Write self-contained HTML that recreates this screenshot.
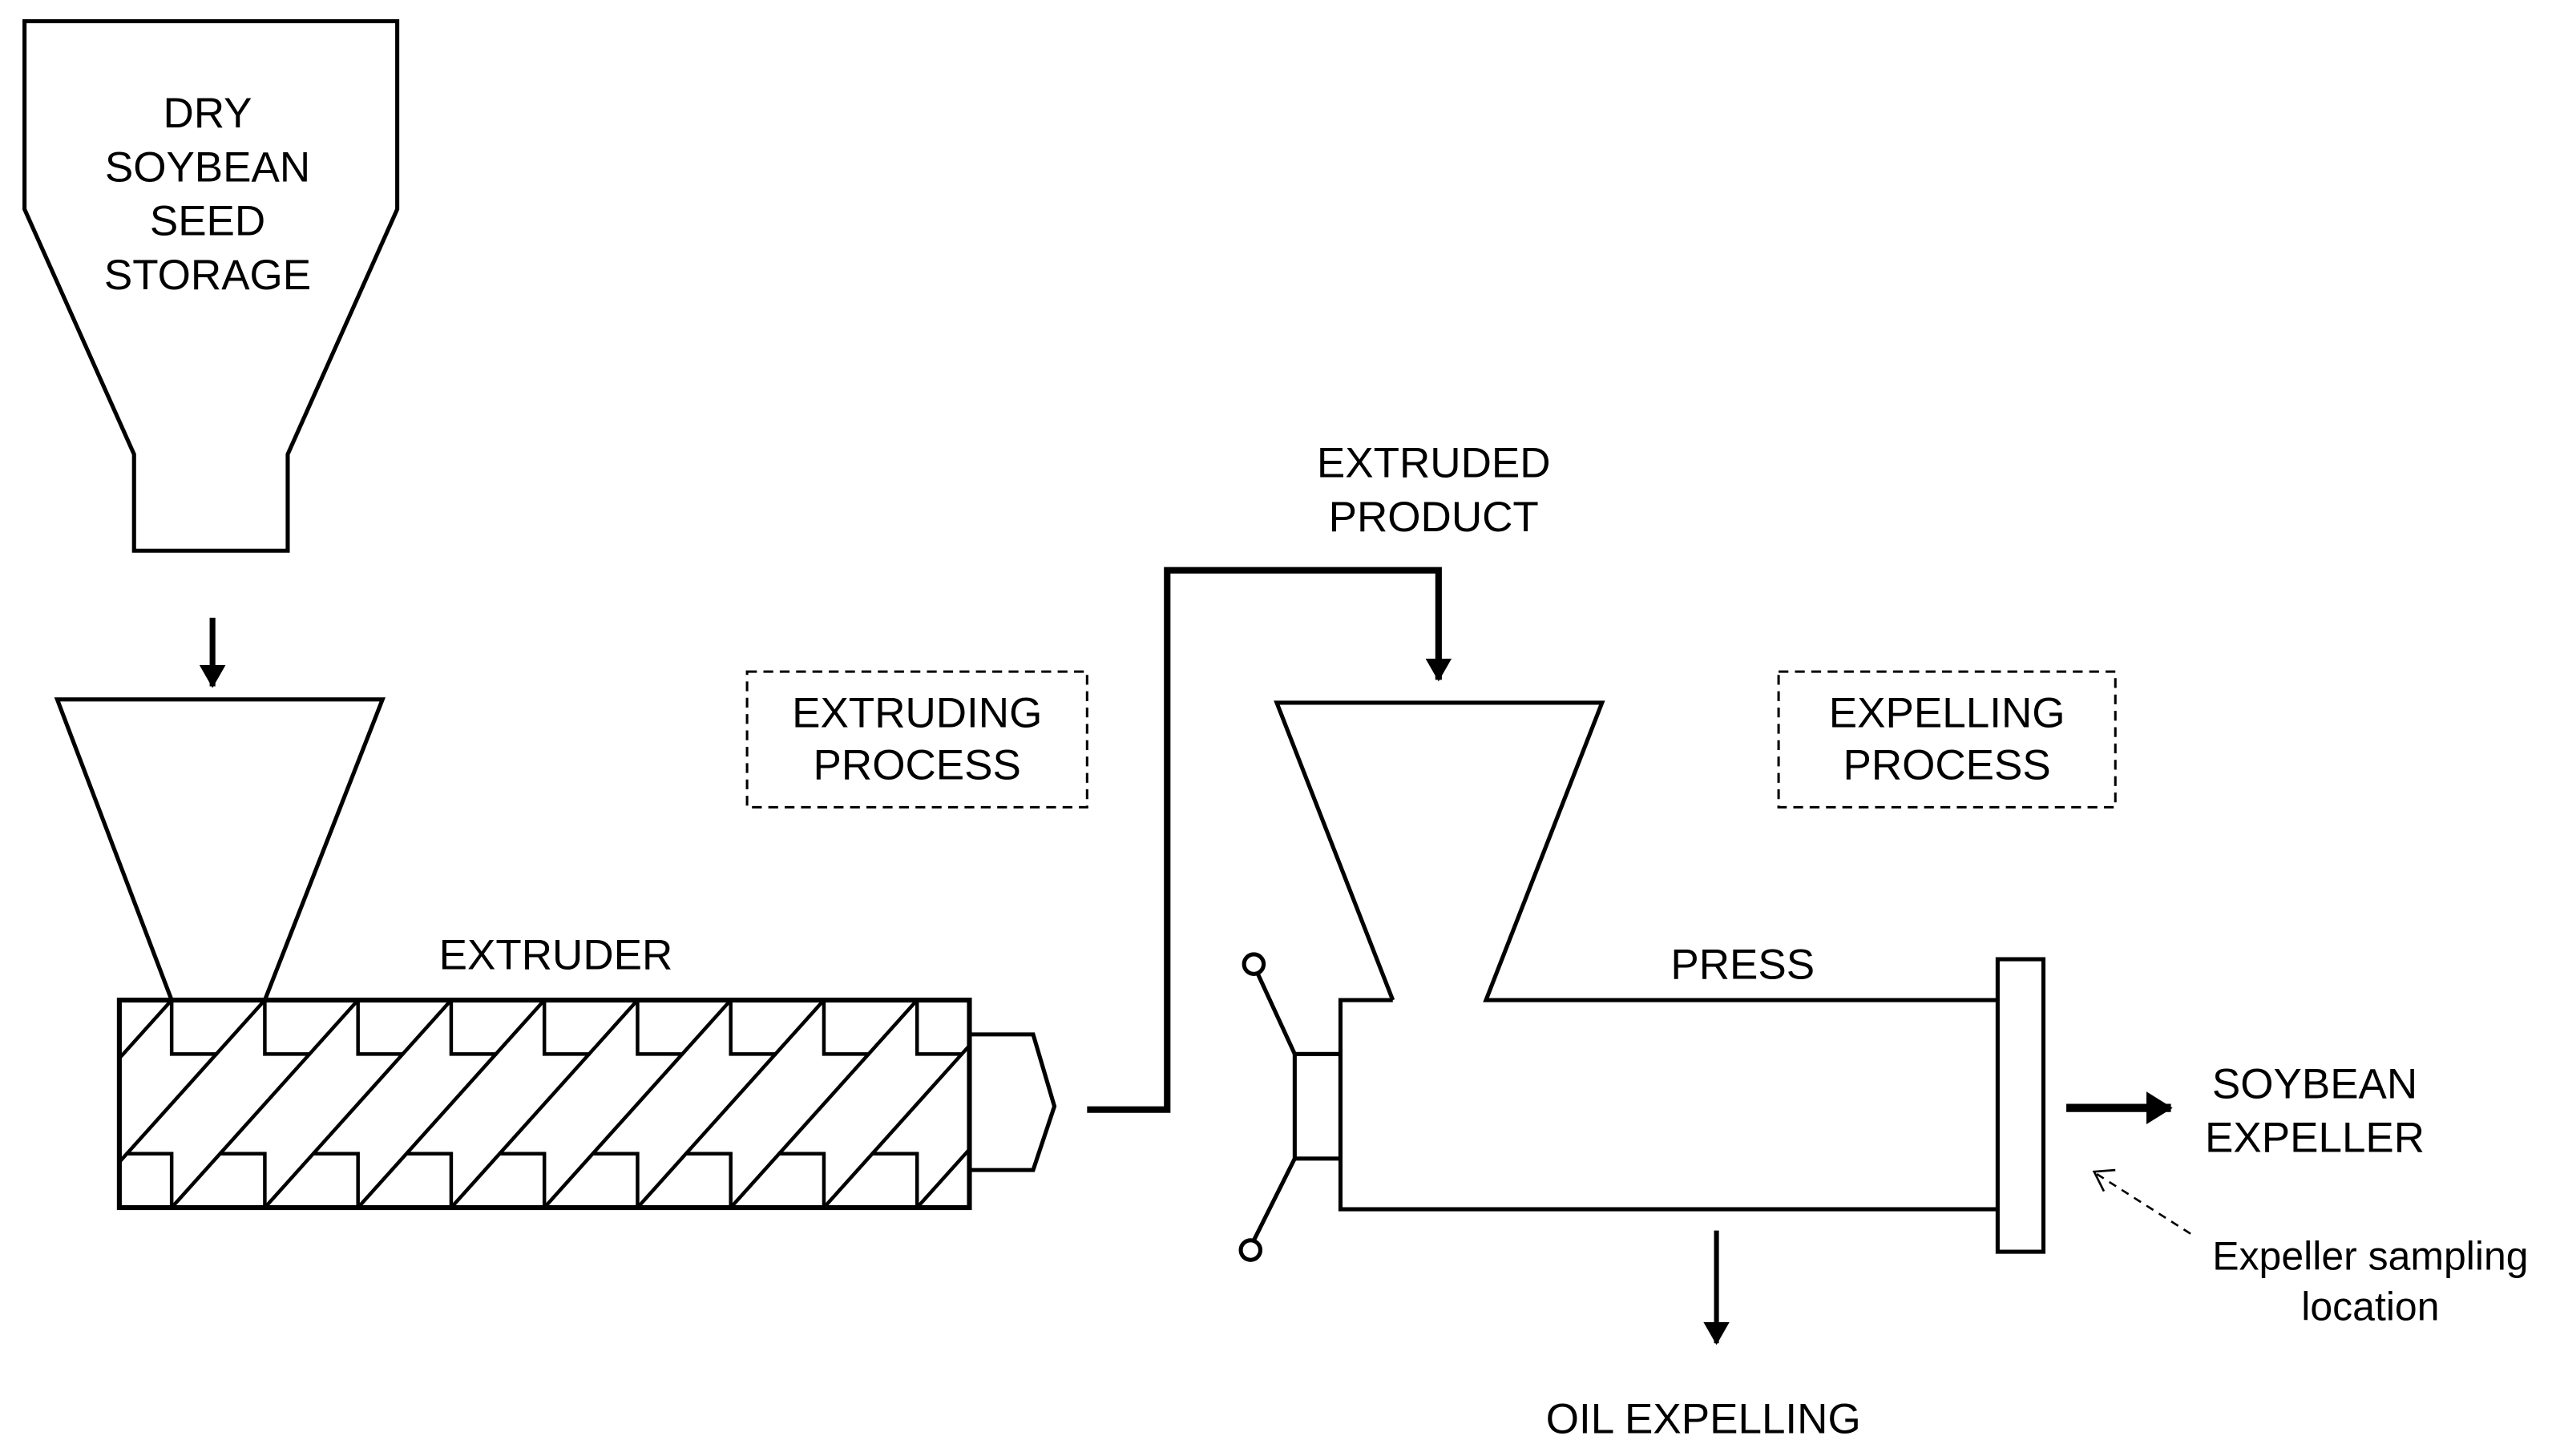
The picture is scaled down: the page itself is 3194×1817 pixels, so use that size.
<!DOCTYPE html>
<html><head><meta charset="utf-8"><style>
html,body{margin:0;padding:0;background:#fff;}
svg{display:block;}
text{font-family:"Liberation Sans",Arial,sans-serif;font-size:26px;fill:#000;text-anchor:middle;}
</style></head><body>
<svg width="3194" height="1817" viewBox="0 0 1566 891" preserveAspectRatio="none" xmlns="http://www.w3.org/2000/svg">
<defs>
<clipPath id="bc"><rect x="73" y="612" width="520" height="127"/></clipPath>
<marker id="ah" markerWidth="14" markerHeight="16" refX="13" refY="8" orient="auto" markerUnits="userSpaceOnUse"><path d="M0,0 L14,8 L0,16 Z" fill="#000"/></marker>
<marker id="ah2" markerWidth="16" markerHeight="20" refX="15" refY="10" orient="auto" markerUnits="userSpaceOnUse"><path d="M0,0 L16,10 L0,20 Z" fill="#000"/></marker>
</defs>
<g fill="none" stroke="#000" stroke-width="2.5">
<path d="M15,128 L15,13 L243,13 L243,128 L176,278 L176,337 L82,337 L82,278 Z"/>
<path d="M105,612 L35,428 L234,428 L162,612"/>
<rect x="73" y="612" width="520" height="127" stroke-width="3"/>
<g clip-path="url(#bc)" stroke-width="2.2">
<path d="M48,612 L-66,739 M105,612 L-9,739 M162,612 L48,739 M219,612 L105,739 M276,612 L162,739 M333,612 L219,739 M390,612 L276,739 M447,612 L333,739 M504,612 L390,739 M561,612 L447,739 M618,612 L504,739 M675,612 L561,739 M732,612 L618,739"/>
<path d="M105,612 V645 H133 M162,612 V645 H190 M219,612 V645 H247 M276,612 V645 H304 M333,612 V645 H361 M390,612 V645 H418 M447,612 V645 H475 M504,612 V645 H532 M561,612 V645 H589"/>
<path d="M105,739 V706 H77 M162,739 V706 H134 M219,739 V706 H191 M276,739 V706 H248 M333,739 V706 H305 M390,739 V706 H362 M447,739 V706 H419 M504,739 V706 H476 M561,739 V706 H533"/>
</g>
<path d="M593,633 L632,633 L645,677 L632,716 L593,716"/>
<path d="M665,679 L714,679 L714,349 L880,349 L880,416" stroke-width="4" marker-end="url(#ah)"/>
<path d="M130,378 L130,420" stroke-width="3.5" marker-end="url(#ah)"/>
<rect x="457" y="411" width="208" height="83" stroke-width="1.5" stroke-dasharray="6,4"/>
<rect x="1088" y="411" width="206" height="83" stroke-width="1.5" stroke-dasharray="6,4"/>
<path d="M852,612 L781,430 L980,430 L909,612 L1222,612"/>
<path d="M852,612 L820,612 L820,740 L1222,740"/>
<rect x="1222" y="587" width="28" height="179"/>
<rect x="792" y="645" width="28" height="64"/>
<path d="M792,645 L769,595 M792,709 L767,759"/>
<circle cx="767" cy="590" r="6"/>
<circle cx="765" cy="765" r="6"/>
<path d="M1264,678 L1328,678" stroke-width="5" marker-end="url(#ah2)"/>
<path d="M1050,753 L1050,822" stroke-width="3" marker-end="url(#ah)"/>
<path d="M1340,755 L1282,718" stroke-width="1.3" stroke-dasharray="5,4"/>
<path d="M1294,716 L1281,717 L1287,729" stroke-width="1.3"/>
</g>
<text x="127" y="78">DRY</text>
<text x="127" y="111">SOYBEAN</text>
<text x="127" y="144">SEED</text>
<text x="127" y="177">STORAGE</text>
<text x="340" y="593">EXTRUDER</text>
<text x="877" y="292">EXTRUDED</text>
<text x="877" y="325">PRODUCT</text>
<text x="561" y="445">EXTRUDING</text>
<text x="561" y="477">PROCESS</text>
<text x="1191" y="445">EXPELLING</text>
<text x="1191" y="477">PROCESS</text>
<text x="1066" y="599">PRESS</text>
<text x="1416" y="672">SOYBEAN</text>
<text x="1416" y="705">EXPELLER</text>
<text x="1450" y="777" style="font-size:24.5px">Expeller sampling</text>
<text x="1450" y="808" style="font-size:24.5px">location</text>
<text x="1042" y="877">OIL EXPELLING</text>
</svg>
</body></html>
